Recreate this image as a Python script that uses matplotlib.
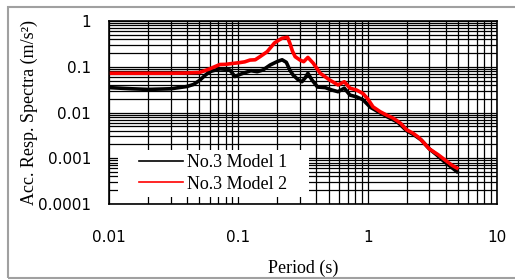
import matplotlib
matplotlib.use("Agg")
import matplotlib.pyplot as plt
from matplotlib.patches import Rectangle

# periods (s) and spectral accelerations (m/s^2)
period_1 = [0.01, 0.015, 0.02, 0.03, 0.04, 0.045, 0.05, 0.055, 0.06, 0.072, 0.08, 0.086,
            0.094, 0.1, 0.112, 0.125, 0.14, 0.155, 0.176, 0.2, 0.218, 0.235, 0.25, 0.265,
            0.29, 0.31, 0.33, 0.345, 0.37, 0.41, 0.47, 0.53, 0.59, 0.66, 0.73, 0.82,
            0.92, 1.05, 1.25, 1.45, 1.7, 2.0, 2.3, 2.6, 3.0, 3.4, 3.9, 4.4, 4.9]
accel_1 = [0.035, 0.033, 0.032, 0.033, 0.037, 0.041, 0.05, 0.064, 0.078, 0.09, 0.088, 0.085,
           0.061, 0.066, 0.074, 0.082, 0.078, 0.085, 0.109, 0.13, 0.142, 0.125, 0.085, 0.066,
           0.052, 0.047, 0.058, 0.072, 0.052, 0.036, 0.035, 0.031, 0.0285, 0.034, 0.024, 0.022,
           0.019, 0.013, 0.0098, 0.0078, 0.0062, 0.004, 0.0032, 0.0025, 0.0016, 0.0012, 0.00085,
           0.00065, 0.00051]

period_2 = [0.01, 0.02, 0.03, 0.04, 0.05, 0.055, 0.06, 0.072, 0.08, 0.09, 0.1, 0.112,
            0.123, 0.135, 0.147, 0.167, 0.19, 0.205, 0.218, 0.24, 0.25, 0.262, 0.275,
            0.3, 0.32, 0.345, 0.38, 0.43, 0.51, 0.59, 0.66, 0.73, 0.82, 0.92, 1.0, 1.1,
            1.25, 1.4, 1.58, 1.8, 2.0, 2.25, 2.5, 2.75, 3.0, 3.5, 4.0, 4.5, 4.9]
accel_2 = [0.072, 0.072, 0.072, 0.073, 0.075, 0.082, 0.09, 0.112, 0.113, 0.118, 0.122, 0.128,
           0.14, 0.142, 0.166, 0.213, 0.33, 0.38, 0.42, 0.44, 0.33, 0.22, 0.166,
           0.14, 0.129, 0.16, 0.119, 0.072, 0.051, 0.040, 0.047, 0.034, 0.031, 0.026, 0.02, 0.0133,
           0.0104, 0.0088, 0.0075, 0.0058, 0.0042, 0.0035, 0.0028, 0.0021, 0.0016, 0.0012, 0.0009,
           0.0007, 0.00061]

labels = ['No.3 Model 1', 'No.3 Model 2']

fig = plt.figure(figsize=(5.15, 2.8), dpi=100)
ax = fig.add_axes([0.2117, 0.2714, 0.7533, 0.6536])

ax.plot(period_1, accel_1, color='black', lw=2.6, label=labels[0], solid_joinstyle='round')
ax.plot(period_2, accel_2, color='red', lw=2.6, label=labels[1], solid_joinstyle='round')

ax.set_xscale('log')
ax.set_yscale('log')
ax.set_xlim(0.01, 10)
ax.set_ylim(0.0001, 1)

# axis formatting
ax.grid(True, which='both', color='black', lw=0.9)
ax.set_axisbelow(True)
for s in ax.spines.values():
    s.set_linewidth(1.2)
ax.tick_params(axis='both', which='both', length=0)
ax.tick_params(axis='x', pad=19, labelsize=11)
ax.tick_params(axis='y', pad=13, labelsize=11)
ax.set_xticks([0.01, 0.1, 1, 10])
ax.set_xticklabels(['0.01', '0.1', '1', '10'])
ax.set_yticks([0.0001, 0.001, 0.01, 0.1, 1])
ax.set_yticklabels(['0.0001', '0.001', '0.01', '0.1', '1'])

ax.set_xlabel('Period (s)', family='Liberation Serif', fontsize=13, labelpad=10)
ax.set_ylabel('Acc. Resp. Spectra (m/s²)', family='Liberation Serif', fontsize=13, labelpad=0)

# white box behind the legend hides the grid there
ax.add_patch(Rectangle((0.023, 0.038), 0.492, 0.257, transform=ax.transAxes,
                       facecolor='white', edgecolor='none', zorder=1))
leg = ax.legend(loc='center left', bbox_to_anchor=(0.0773, 0.1667), frameon=False,
                prop={'family': 'Liberation Serif', 'size': 13}, handlelength=2.44,
                borderaxespad=0, borderpad=0, labelspacing=0.25, handletextpad=0.22)
for h in leg.get_lines():
    h.set_linewidth(1.2)

# outer chart border (runs off the right edge)
fig.patches.append(Rectangle((8 / 515, 2 / 280), 520 / 515, 271 / 280, transform=fig.transFigure,
                             fill=False, edgecolor='#a0a0a0', lw=1.5))

fig.savefig('out.png', dpi=100)
